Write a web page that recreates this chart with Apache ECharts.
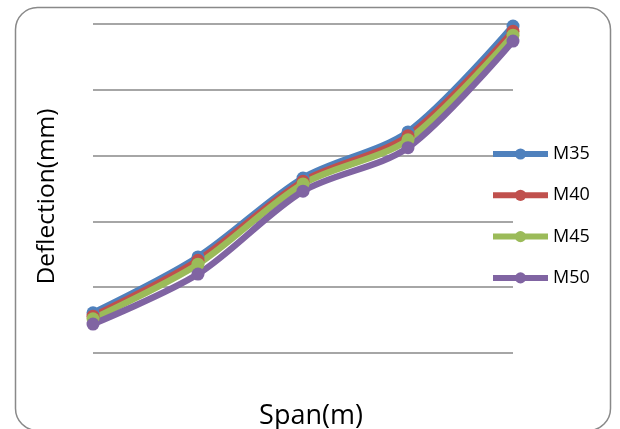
<!DOCTYPE html>
<html><head><meta charset="utf-8">
<script src="https://cdn.jsdelivr.net/npm/echarts@6/dist/echarts.min.js"></script>
<style>html,body{margin:0;padding:0;background:#fff}#c{width:620px;height:429px}</style>
</head><body><div id="c"></div>
<script>
const categories = ['1', '2', '3', '4', '5'];
const seriesNames = ['M35', 'M40', 'M45', 'M50'];
const m35 = [6.1, 14.6, 26.6, 33.6, 49.7];
const m40 = [5.6, 14.1, 26.1, 33.0, 48.9];
const m45 = [5.2, 13.5, 25.7, 32.4, 48.3];
const m50 = [4.4, 12.0, 24.6, 31.2, 47.4];
const colors = ['#4F81BD', '#C0504D', '#9BBB59', '#8064A2'];
const allData = [m35, m40, m45, m50];
const FONT = '"Open Sans", "Liberation Sans", sans-serif';

const chart = echarts.init(document.getElementById('c'), null, {renderer: 'canvas'});
chart.setOption({
  animation: false,
  color: colors,
  graphic: [{
    type: 'rect', left: 13, top: 5, z: -1,
    shape: {width: 595, height: 423, r: 22},
    style: {fill: 'none', stroke: '#898989', lineWidth: 1.5}
  }],
  grid: {left: 93, right: 107, top: 24, bottom: 76, outerBoundsMode: 'none', containLabel: false},
  legend: {
    orient: 'vertical', left: 490, top: 145, padding: 0,
    itemWidth: 55, itemHeight: 14, itemGap: 23.3,
    textStyle: {fontFamily: FONT, fontSize: 18, color: '#000'},
    lineStyle: {width: 6},
    data: seriesNames
  },
  xAxis: {
    type: 'category', data: categories, boundaryGap: false,
    name: 'Span(m)', nameLocation: 'middle', nameGap: 50,
    nameTextStyle: {fontFamily: FONT, fontSize: 27, color: '#000', padding: [0, 0, 0, 16]},
    axisLine: {show: false}, axisTick: {show: false}, axisLabel: {show: false}
  },
  yAxis: {
    type: 'value', min: 0, max: 50, interval: 10,
    name: 'Deflection(mm)', nameLocation: 'middle', nameGap: 33,
    nameTextStyle: {fontFamily: FONT, fontSize: 24.5, color: '#000', padding: [0, 16, 0, 0]},
    axisLine: {show: false}, axisTick: {show: false}, axisLabel: {show: false},
    splitLine: {lineStyle: {color: '#888', width: 1.5}}
  },
  series: seriesNames.map((n, i) => ({
    name: n, type: 'line', data: allData[i], smooth: 0.3,
    symbol: 'circle', symbolSize: 13,
    lineStyle: {width: 6.5, color: colors[i]},
    itemStyle: {color: colors[i]}
  }))
});
</script></body></html>
